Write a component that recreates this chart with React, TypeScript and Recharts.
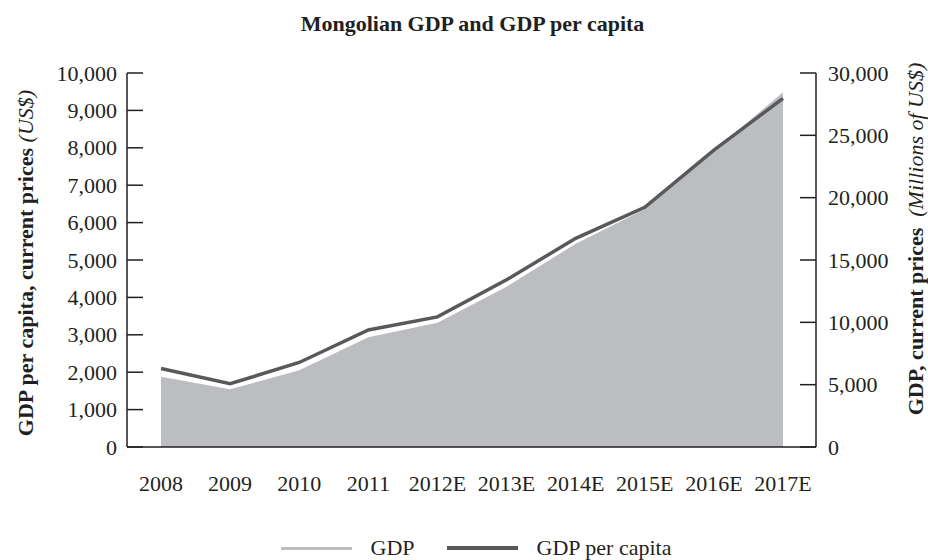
import React from "react";
import {
  ComposedChart, Area, Line, XAxis, YAxis, Legend, Label,
} from "recharts";

// years (E = estimate)
const years = ["2008", "2009", "2010", "2011", "2012E", "2013E", "2014E", "2015E", "2016E", "2017E"];
// GDP, current prices, millions of US$ (right axis)
const gdp = [5640, 4630, 6150, 8800, 9970, 12860, 16300, 19070, 23770, 28450];
// GDP per capita, current prices, US$ (left axis)
const gdpPerCapita = [2100, 1690, 2260, 3130, 3480, 4470, 5580, 6410, 7940, 9320];

const leftTicks = [0, 1000, 2000, 3000, 4000, 5000, 6000, 7000, 8000, 9000, 10000];
const rightTicks = [0, 5000, 10000, 15000, 20000, 25000, 30000];

const FONT = "'Liberation Serif', 'Times New Roman', serif";
const INK = "#231f20";
const AREA_FILL = "#bcbdc0";
const LINE_DARK = "#58595b";

const data = years.map((y, i) => ({ year: y, gdp: gdp[i], perCapita: gdpPerCapita[i] }));

const fmt = (v: number) => v.toLocaleString("en-US");

// ticks point inward into the plot, labels outside
function LeftTick(props: any) {
  const { x, y, payload } = props;
  return (
    <g>
      <line x1={x} x2={x + 16} y1={y} y2={y} stroke={INK} strokeWidth={1.5} />
      <text x={x - 10} y={y} textAnchor="end" dominantBaseline="central"
        fontSize={22} fontFamily={FONT} fill={INK}>{fmt(payload.value)}</text>
    </g>
  );
}

function RightTick(props: any) {
  const { x, y, payload } = props;
  return (
    <g>
      <line x1={x} x2={x - 16} y1={y} y2={y} stroke={INK} strokeWidth={1.5} />
      <text x={x + 12} y={y} textAnchor="start" dominantBaseline="central"
        fontSize={22} fontFamily={FONT} fill={INK}>{fmt(payload.value)}</text>
    </g>
  );
}

function LeftLabel(props: any) {
  const vb = props.viewBox;
  const cx = vb.x + 25;
  const cy = vb.y + vb.height / 2 + 3;
  return (
    <text x={cx} y={cy} transform={`rotate(-90 ${cx} ${cy})`} textAnchor="middle"
      dominantBaseline="central" fontSize={22} fontFamily={FONT} fill={INK}>
      <tspan fontWeight="bold">GDP per capita, current prices </tspan>
      <tspan fontStyle="italic">(US$)</tspan>
    </text>
  );
}

function RightLabel(props: any) {
  const vb = props.viewBox;
  const cx = vb.x + vb.width - 13;
  const cy = vb.y + vb.height / 2 - 21;
  return (
    <text x={cx} y={cy} transform={`rotate(-90 ${cx} ${cy})`} textAnchor="middle"
      dominantBaseline="central" fontSize={22} fontFamily={FONT} fill={INK}>
      <tspan fontWeight="bold">GDP, current prices</tspan>
      <tspan fontStyle="italic" xmlSpace="preserve">{"  (Millions of US$)"}</tspan>
    </text>
  );
}

function LegendContent(props: any) {
  const items = props.payload || [];
  return (
    <div style={{
      display: "flex", justifyContent: "center", alignItems: "center",
      height: 24, paddingLeft: 24, fontFamily: FONT, fontSize: 22, color: INK,
    }}>
      {items.map((it: any, i: number) => (
        <div key={i} style={{ display: "flex", alignItems: "center", marginLeft: i ? 32 : 0 }}>
          <span style={{
            display: "inline-block", width: 71,
            height: it.dataKey === "gdp" ? 3 : 4, background: it.dataKey === "gdp" ? AREA_FILL : LINE_DARK,
          }} />
          <span style={{ marginLeft: 19 }}>{it.value}</span>
        </div>
      ))}
    </div>
  );
}

export default function App() {
  return (
    <div style={{ position: "absolute", left: 0, top: 0, width: 928, height: 560, background: "#fff", fontFamily: FONT }}>
      <div style={{
        position: "absolute", left: 0, top: 11, width: 945, textAlign: "center",
        fontSize: 22, fontWeight: "bold", color: INK, fontFamily: FONT,
      }}>
        Mongolian GDP and GDP per capita
      </div>
      <ComposedChart width={928} height={560} data={data}
        margin={{ top: 73, right: 0, bottom: 0, left: 0 }}>
        <XAxis dataKey="year" axisLine={{ stroke: INK, strokeWidth: 1.5 }} tickLine={false}
          tickMargin={22} height={89} padding={{ left: 34, right: 33 }} interval={0}
          tick={{ fontSize: 22, fontFamily: FONT, fill: INK }} />
        <YAxis yAxisId="left" orientation="left" width={127} domain={[0, 10000]} ticks={leftTicks}
          interval={0} tickSize={0} tickMargin={0} tickLine={false}
          axisLine={{ stroke: INK, strokeWidth: 1.5 }} tick={<LeftTick />}>
          <Label content={<LeftLabel />} />
        </YAxis>
        <YAxis yAxisId="right" orientation="right" width={112} domain={[0, 30000]} ticks={rightTicks}
          interval={0} tickSize={0} tickMargin={0} tickLine={false}
          axisLine={{ stroke: INK, strokeWidth: 1.5 }} tick={<RightTick />}>
          <Label content={<RightLabel />} />
        </YAxis>
        <Legend verticalAlign="bottom" height={24} content={<LegendContent />} />
        <Area yAxisId="right" type="linear" dataKey="gdp" name="GDP" fill={AREA_FILL}
          fillOpacity={1} stroke="none" isAnimationActive={false} legendType="line" />
        <Line yAxisId="left" type="linear" dataKey="perCapita" name="GDP per capita"
          stroke={LINE_DARK} strokeWidth={3.5} dot={false} activeDot={false}
          isAnimationActive={false} />
      </ComposedChart>
    </div>
  );
}
